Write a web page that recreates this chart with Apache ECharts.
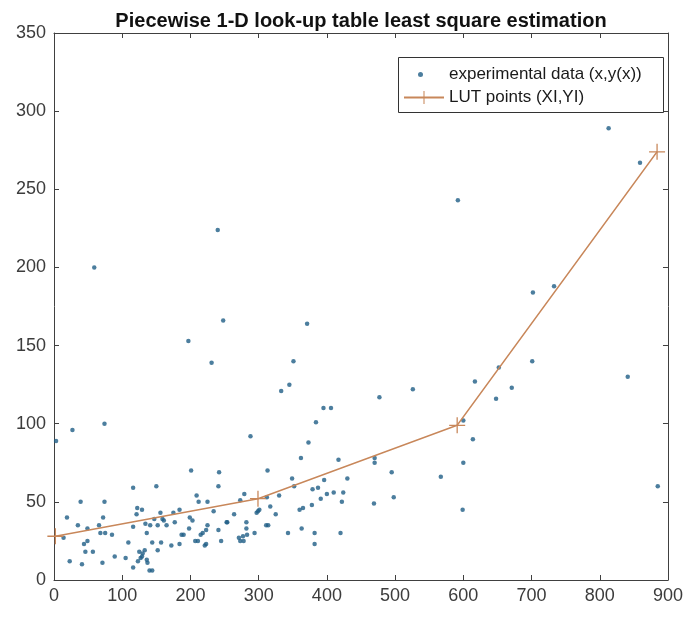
<!DOCTYPE html>
<html><head><meta charset="utf-8">
<script src="https://cdn.jsdelivr.net/npm/echarts@6/dist/echarts.min.js"></script>
<style>html,body{margin:0;padding:0;background:#fff}#c{width:686px;height:617px}</style>
</head><body><div id="c"></div>
<script>
const chartTitle = 'Piecewise 1-D look-up table least square estimation';
const seriesNames = ['experimental data (x,y(x))', 'LUT points (XI,YI)'];
const xTickValues = [0,100,200,300,400,500,600,700,800,900];
const yTickValues = [0,50,100,150,200,250,300,350];

// experimental data (x, y(x))
const experimentalPoints = [
  [3,89],[27,96],[74,100],[59,200],[39,50],[74,50],[19,40],[35,35],[49,33],[14,27],[44,23],[49,25],[46,18],[57,18],
  [23,12],[41,10],[71,11],[89,15],[72,40],[66,35],[68,30],[75,30],[85,29],
  [116,59],[122,46],[121,42],[129,45],[116,34],[109,24],[105,14],[116,8],[123,12],[127,14],[125,18],[130,17],[133,19],
  [129,15],[136,13],[137,11],[140,6],[144,6],[134,36],[136,30],[141,35],[147,39],[150,60],[144,24],[152,19],[157,24],
  [152,35],[156,43],[159,39],[161,38],[165,35],[172,22],[175,43],[177,37],[184,45],[184,23],[187,29],[190,29],[198,33],
  [199,40],[203,38],[201,70],[209,54],[212,50],[225,50],[242,69],[241,60],[234,44],[207,25],[211,25],[215,29],[218,30],
  [223,32],[225,35],[221,22],[223,23],[241,32],[245,25],[254,37],[264,42],
  [197,153],[240,224],[248,166],[231,139],
  [333,121],[345,125],[395,110],[406,110],[384,101],[477,117],[526,122],[288,92],[373,88],[362,78],[417,77],[470,78],
  [470,75],[495,69],[498,53],[469,49],[313,70],[349,65],[352,60],[396,64],[430,65],[379,58],[387,59],[400,55],[410,56],
  [424,56],[422,50],[391,52],[378,48],[365,46],[360,45],[330,54],[312,53],[279,55],[273,51],[317,47],[325,42],[297,43],
  [299,44],[301,45],[311,35],[314,35],[282,37],[282,33],[277,28],[271,27],[273,25],[278,25],[283,29],[294,30],[253,37],
  [343,30],[363,33],[382,30],[382,23],[420,30],[371,164],[351,140],
  [813,289],[859,267],[592,243],[702,184],[733,188],[701,140],[652,136],[617,127],[671,123],[648,116],[841,130],
  [600,102],[614,90],[600,75],[567,66],[599,45],[885,60]
];

// look-up table points (XI, YI)
const lutX = [2, 299, 591, 884];
const lutY = [28, 52, 99, 274];

const font = 'Liberation Sans, Arial, Helvetica, sans-serif';
const axisColor = '#404040';
const lutColor = '#c8875a';
const dotColor = '#1f5e86';
const plusPath = 'path://M4.6,0 H5.4 V4.6 H10 V5.4 H5.4 V10 H4.6 V5.4 H0 V4.6 H4.6 Z';

const chart = echarts.init(document.getElementById('c'), null, {renderer: 'canvas'});

function valueAxis(pos, show, min, max, step, isX) {
  return {
    type: 'value', position: pos, min: min, max: max, interval: step,
    axisLine: {show: true, onZero: false, lineStyle: {color: axisColor, width: 1}},
    axisTick: {show: true, inside: true, length: 5, lineStyle: {color: axisColor}},
    splitLine: {show: false},
    axisLabel: {show: show, color: '#3c3c3c', fontSize: 18, fontFamily: font, margin: isX ? 7 : 8}
  };
}

chart.setOption({
  animation: false,
  backgroundColor: '#ffffff',
  title: {
    text: chartTitle, left: 356, top: 6, textAlign: 'center',
    textStyle: {fontFamily: font, fontSize: 20, fontWeight: 'bold', color: '#111'}
  },
  grid: {left: 54, right: 18, top: 33, bottom: 37, containLabel: false},
  xAxis: [
    valueAxis('bottom', true, xTickValues[0], xTickValues[xTickValues.length-1], xTickValues[1]-xTickValues[0], true),
    valueAxis('top', false, xTickValues[0], xTickValues[xTickValues.length-1], xTickValues[1]-xTickValues[0], true)
  ],
  yAxis: [
    valueAxis('left', true, yTickValues[0], yTickValues[yTickValues.length-1], yTickValues[1]-yTickValues[0], false),
    valueAxis('right', false, yTickValues[0], yTickValues[yTickValues.length-1], yTickValues[1]-yTickValues[0], false)
  ],
  graphic: [{
    type: 'rect', left: 398, top: 57, z: 100,
    shape: {width: 265, height: 55},
    style: {fill: '#ffffff', stroke: '#333333', lineWidth: 1}
  }],
  legend: [{
    data: [seriesNames[0]], orient: 'vertical', left: 418, top: 66, z: 101,
    icon: 'circle', itemWidth: 5, itemHeight: 5, padding: 0,
    textStyle: {fontFamily: font, fontSize: 17, color: '#1a1a1a', padding: [0,0,0,21]}
  }, {
    data: [seriesNames[1]], orient: 'vertical', left: 403, top: 89, z: 101,
    itemWidth: 40, itemHeight: 16, padding: 0,
    textStyle: {fontFamily: font, fontSize: 17, color: '#1a1a1a', padding: 0}
  }],
  series: [{
    name: seriesNames[0], type: 'scatter', xAxisIndex: 0, yAxisIndex: 0,
    data: experimentalPoints, symbol: 'circle', symbolSize: 4.5,
    itemStyle: {color: dotColor}
  }, {
    name: seriesNames[1], type: 'line', xAxisIndex: 0, yAxisIndex: 0,
    data: lutX.map((x, i) => [x, lutY[i]]),
    symbol: plusPath, symbolSize: 16, showSymbol: true,
    lineStyle: {color: lutColor, width: 1.4},
    itemStyle: {color: lutColor}
  }]
});
</script>
</body></html>
